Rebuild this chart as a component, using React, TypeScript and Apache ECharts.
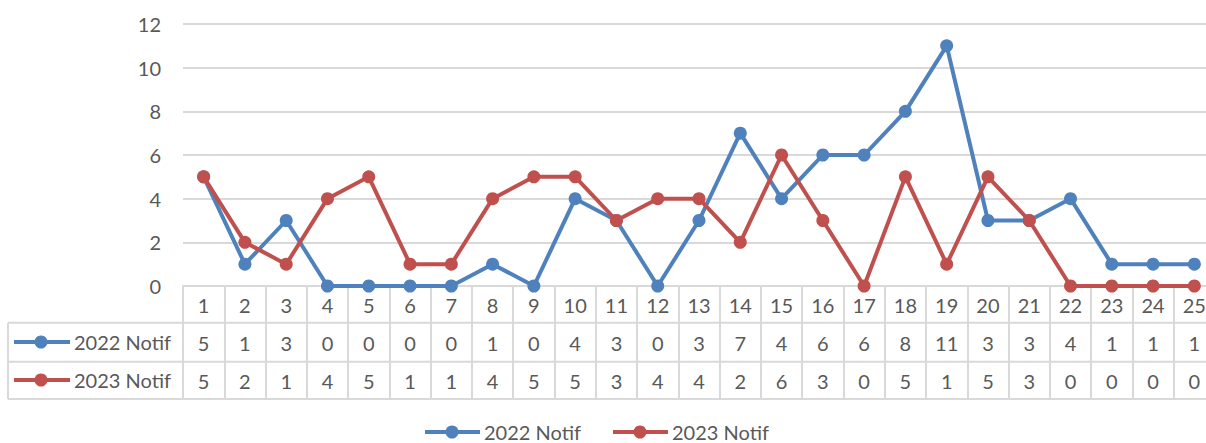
import React, { useEffect, useRef } from "react";
import * as echarts from "echarts";

const categories = ["1","2","3","4","5","6","7","8","9","10","11","12","13","14","15","16","17","18","19","20","21","22","23","24","25"];
const notif2022 = [5,1,3,0,0,0,0,1,0,4,3,0,3,7,4,6,6,8,11,3,3,4,1,1,1];
const notif2023 = [5,2,1,4,5,1,1,4,5,5,3,4,4,2,6,3,0,5,1,5,3,0,0,0,0];
const seriesNames = ["2022 Notif", "2023 Notif"];
const yTicks = { min: 0, max: 12, interval: 2 };

const BLUE = "#4f81bd";
const RED = "#c0504d";
const GRAY = "#d9d9d9";
const TEXT = "#595959";
const FONT = "Lato";
const FS = 20;
const INNER_W = 1215;

export default function App() {
  const ref = useRef<HTMLDivElement>(null);
  useEffect(() => {
    const chart = echarts.init(ref.current!, null, { renderer: "svg" });
    const rowY = [304, 342, 380];
    const hLines = [322.7, 361.7, 399];
    const graphics: any[] = [];
    hLines.forEach((y) => {
      graphics.push({ type: "line", shape: { x1: 8, y1: y, x2: INNER_W, y2: y }, style: { stroke: GRAY, lineWidth: 2 }, silent: true });
    });
    graphics.push({ type: "line", shape: { x1: 8, y1: 322.7, x2: 8, y2: 399 }, style: { stroke: GRAY, lineWidth: 2 }, silent: true });
    [BLUE, RED].forEach((c, i) => {
      const y = rowY[i + 1];
      graphics.push({ type: "line", shape: { x1: 14, y1: y, x2: 70, y2: y }, style: { stroke: c, lineWidth: 4 }, silent: true });
      graphics.push({ type: "circle", shape: { cx: 41, cy: y, r: 6.5 }, style: { fill: c }, silent: true });
      graphics.push({ type: "text", x: 74, y, style: { text: seriesNames[i], fill: TEXT, font: `${FS}px ${FONT}`, verticalAlign: "middle", align: "left" }, silent: true });
    });
    const legendItems = [
      { x: 425, c: BLUE },
      { x: 613, c: RED },
    ];
    legendItems.forEach((it, i) => {
      const y = 432;
      graphics.push({ type: "line", shape: { x1: it.x, y1: y, x2: it.x + 55, y2: y }, style: { stroke: it.c, lineWidth: 4 }, silent: true });
      graphics.push({ type: "circle", shape: { cx: it.x + 27, cy: y, r: 6.5 }, style: { fill: it.c }, silent: true });
      graphics.push({ type: "text", x: it.x + 59, y, style: { text: seriesNames[i], fill: TEXT, font: `${FS}px ${FONT}`, verticalAlign: "middle", align: "left" }, silent: true });
    });

    chart.setOption({
      animation: false,
      textStyle: { fontFamily: FONT },
      grid: { left: 183, right: 0, top: 24, height: 262, containLabel: false },
      legend: { show: false, data: seriesNames },
      xAxis: {
        type: "category",
        data: categories,
        boundaryGap: true,
        axisLine: { show: true, lineStyle: { color: GRAY, width: 2 } },
        axisTick: { show: true, interval: 0, length: 113, lineStyle: { color: GRAY, width: 2 } },
        axisLabel: {
          interval: 0,
          margin: 0,
          formatter: (v: string, i: number) => `{c|${v}}\n{c|${notif2022[i]}}\n{c|${notif2023[i]}}`,
          rich: { c: { fontSize: FS, fontFamily: FONT, color: TEXT, lineHeight: 38 } },
        },
      },
      yAxis: {
        type: "value",
        min: yTicks.min,
        max: yTicks.max,
        interval: yTicks.interval,
        axisLine: { show: false },
        axisTick: { show: false },
        axisLabel: { color: TEXT, fontSize: FS, fontFamily: FONT, margin: 22 },
        splitLine: { lineStyle: { color: GRAY, width: 2 } },
      },
      series: [
        {
          name: seriesNames[0], type: "line", data: notif2022,
          symbol: "circle", symbolSize: 13,
          lineStyle: { color: BLUE, width: 4 }, itemStyle: { color: BLUE },
        },
        {
          name: seriesNames[1], type: "line", data: notif2023,
          symbol: "circle", symbolSize: 13,
          lineStyle: { color: RED, width: 4 }, itemStyle: { color: RED },
        },
      ],
      graphic: graphics,
    });
    return () => chart.dispose();
  }, []);
  return (
    <div style={{ position: "absolute", left: 0, top: 0, width: 1206, height: 443, overflow: "hidden", background: "#fff" }}>
      <div ref={ref} style={{ width: INNER_W, height: 443 }} />
    </div>
  );
}
